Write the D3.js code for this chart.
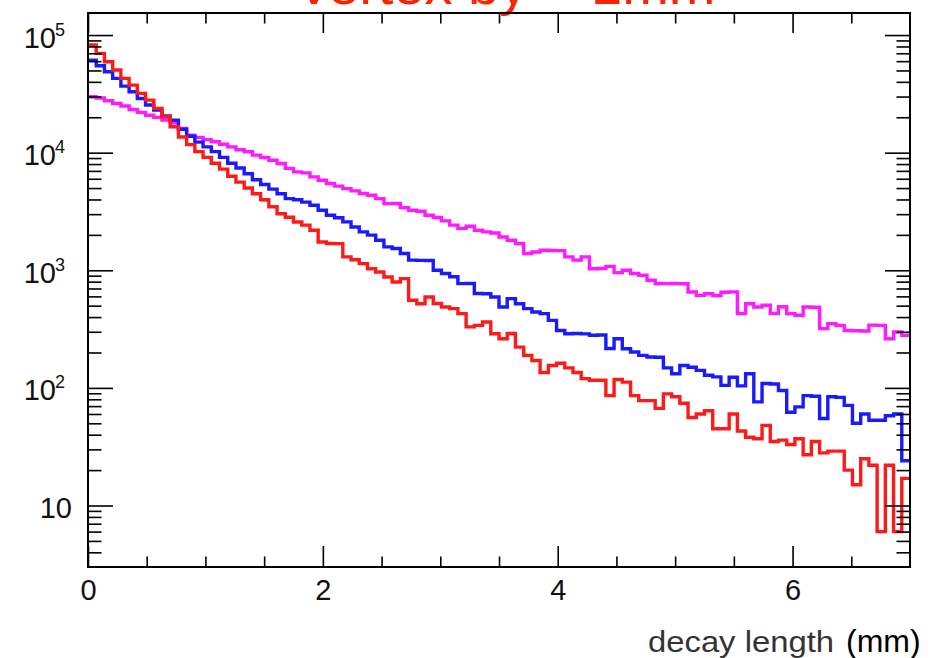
<!DOCTYPE html>
<html><head><meta charset="utf-8">
<script src="https://cdn.jsdelivr.net/npm/d3@7"></script>
<style>html,body{margin:0;padding:0;background:#fff;overflow:hidden;}</style>
</head><body>
<svg id="chart" width="947" height="658"></svg>
<script>
// ---- data (100 bins, 0 to 7 mm) ----
const xMin = 0, xMax = 7, nBins = 100;
const redCounts = [
 82200,69800,59300,50400,42800,37500,31900,28000,23800,20200,
 16600,13600,11700,10200,9120,8130,7240,6310,5620,5010,
 4470,3980,3470,3020,2820,2570,2420,2190,1740,1690,
 1685,1300,1230,1140,1030,968,877,794,849,556,
 520,593,522,488,472,428,330,340,363,289,
 262,290,222,189,171,135,155,162,148,135,
 120,116,116,86,118,112,86,78,78,67,
 89,84,74,56,60,64,45,45,60,43,
 38,37,48,35,36,33,37,27,35,28,
 29,29,20,15,25,22,6,22,6,17];
const blueCounts = [
 61200,54800,48800,42800,36800,33000,28900,25400,23000,20500,
 18900,15800,13800,12300,11200,10200,9120,8130,7410,6610,
 5890,5370,4900,4470,4070,3980,3800,3570,3240,2940,
 2800,2580,2330,2120,1990,1800,1580,1530,1390,1220,
 1215,1210,1000,940,880,770,772,635,632,593,
 488,574,520,472,442,428,375,308,289,290,
 288,280,282,216,262,215,202,189,183,182,
 148,132,155,150,141,128,124,105,123,104,
 132,76,109,108,95,62,69,86,85,55,
 84,83,71,50,60,53,53,58,60,24];
const magentaCounts = [
 29900,29200,27600,26200,24900,23300,22000,20800,19950,18900,
 17950,16100,14100,13500,12900,12400,11800,11200,10600,10200,
 9530,9100,8630,8090,7350,6870,6730,6220,5830,5470,
 5190,4950,4730,4500,4350,4070,3690,3700,3410,3240,
 3180,2940,2810,2630,2420,2270,2370,2190,2120,2075,
 1920,1800,1690,1390,1430,1480,1475,1470,1300,1220,
 1300,1030,1035,1080,955,1000,938,906,822,771,
 770,772,768,653,612,632,610,650,655,428,
 520,488,504,430,490,428,414,488,485,319,
 352,340,308,306,305,342,340,262,299,280];
const seriesColors = ["#ff1a1a", "#1a1aff", "#ff1aff"];
const xMajorTicks = [0, 2, 4, 6];
const xTickLabels = ["0", "2", "4", "6"];
const xMinorTicks = [0.5, 1, 1.5, 2.5, 3, 3.5, 4.5, 5, 5.5, 6.5];
const yMajorTicks = [10, 100, 1000, 10000, 100000];
const yTickExp = ["", "2", "3", "4", "5"];
const titleText = "vertex by ~ 1mm";
const xTitle = "decay length";
const xUnit = "(mm)";

// ---- layout ----
const FONT = "'Liberation Sans', Arial, Helvetica, sans-serif";
const frame = {left: 88, right: 910, top: 13, bottom: 567};
const svg = d3.select("#chart");
const x = d3.scaleLinear().domain([xMin, xMax]).range([frame.left, frame.right]);
const y = d3.scaleLog().domain([3.0, 1.54e5]).range([frame.bottom, frame.top]);
const binW = (xMax - xMin) / nBins;

// title (mostly cut off at the top, as in the reference)
svg.append("text").attr("x", 300).attr("y", 4)
  .attr("font-family", FONT).attr("font-size", 56).attr("fill", "#ff2200")
  .text(titleText);

// histograms
svg.append("defs").append("clipPath").attr("id", "plotclip")
  .append("rect").attr("x", frame.left).attr("y", frame.top)
  .attr("width", frame.right - frame.left).attr("height", frame.bottom - frame.top);

function stepPoints(counts) {
  const pts = counts.map((c, i) => [xMin + i * binW, c]);
  pts.push([xMax, counts[counts.length - 1]]);
  return pts;
}
const line = d3.line().x(d => x(d[0])).y(d => y(d[1])).curve(d3.curveStepAfter);
const plotG = svg.append("g").attr("clip-path", "url(#plotclip)");
[[magentaCounts, seriesColors[2]], [blueCounts, seriesColors[1]], [redCounts, seriesColors[0]]].forEach(([counts, col]) => {
  plotG.append("path").attr("d", line(stepPoints(counts)))
    .attr("fill", "none").attr("stroke", col)
    .attr("stroke-width", 3.4).attr("stroke-linejoin", "miter");
});

// minor y ticks
const yMinorTicks = [];
[1, 10, 100, 1000, 10000, 100000].forEach(dec => {
  for (let mlt = 2; mlt <= 9; mlt++) {
    const v = dec * mlt;
    if (v > 3.0 && v < 1.54e5) yMinorTicks.push(v);
  }
});

function styleAxis(g) {
  g.select(".domain").remove();
  g.selectAll("line").attr("stroke", "#000").attr("stroke-width", 1.6);
}

// bottom axis
const bottomMajor = svg.append("g").attr("transform", `translate(0,${frame.bottom})`)
  .call(d3.axisBottom(x).tickValues(xMajorTicks).tickSizeInner(-21).tickSizeOuter(0)
    .tickFormat((d, i) => xTickLabels[i]));
styleAxis(bottomMajor);
bottomMajor.selectAll("text").attr("y", 33).attr("dy", null)
  .attr("font-family", FONT).attr("font-size", 29).attr("fill", "#111");
const bottomMinor = svg.append("g").attr("transform", `translate(0,${frame.bottom})`)
  .call(d3.axisBottom(x).tickValues(xMinorTicks).tickSizeInner(-10.5).tickSizeOuter(0).tickFormat(""));
styleAxis(bottomMinor);

// top axis
const topMajor = svg.append("g").attr("transform", `translate(0,${frame.top})`)
  .call(d3.axisTop(x).tickValues(xMajorTicks).tickSizeInner(-20).tickSizeOuter(0).tickFormat(""));
styleAxis(topMajor);
const topMinor = svg.append("g").attr("transform", `translate(0,${frame.top})`)
  .call(d3.axisTop(x).tickValues(xMinorTicks).tickSizeInner(-10.5).tickSizeOuter(0).tickFormat(""));
styleAxis(topMinor);

// left axis
const leftMajor = svg.append("g").attr("transform", `translate(${frame.left},0)`)
  .call(d3.axisLeft(y).tickValues(yMajorTicks).tickSizeInner(-25).tickSizeOuter(0).tickFormat(""));
styleAxis(leftMajor);
leftMajor.selectAll(".tick").each(function(d, i) {
  const g = d3.select(this);
  g.selectAll("text").remove();
  if (yTickExp[i] === "") {
    g.append("text").attr("x", -16).attr("y", 11.5).attr("text-anchor", "end")
      .attr("font-family", FONT).attr("font-size", 29).attr("fill", "#111").text("10");
  } else {
    g.append("text").attr("x", -32).attr("y", 12).attr("text-anchor", "end")
      .attr("font-family", FONT).attr("font-size", 29).attr("fill", "#111").text("10");
    g.append("text").attr("x", -33).attr("y", 0).attr("text-anchor", "start")
      .attr("font-family", FONT).attr("font-size", 18).attr("fill", "#111").text(yTickExp[i]);
  }
});
const leftMinor = svg.append("g").attr("transform", `translate(${frame.left},0)`)
  .call(d3.axisLeft(y).tickValues(yMinorTicks).tickSizeInner(-13.5).tickSizeOuter(0).tickFormat(""));
styleAxis(leftMinor);

// right axis
const rightMajor = svg.append("g").attr("transform", `translate(${frame.right},0)`)
  .call(d3.axisRight(y).tickValues(yMajorTicks).tickSizeInner(-25).tickSizeOuter(0).tickFormat(""));
styleAxis(rightMajor);
const rightMinor = svg.append("g").attr("transform", `translate(${frame.right},0)`)
  .call(d3.axisRight(y).tickValues(yMinorTicks).tickSizeInner(-13.5).tickSizeOuter(0).tickFormat(""));
styleAxis(rightMinor);

// frame
svg.append("rect").attr("x", frame.left).attr("y", frame.top)
  .attr("width", frame.right - frame.left).attr("height", frame.bottom - frame.top)
  .attr("fill", "none").attr("stroke", "#000").attr("stroke-width", 2);

// x axis title
svg.append("text").attr("x", 648).attr("y", 652)
  .attr("font-family", FONT).attr("font-size", 29).attr("fill", "#333")
  .attr("textLength", 186).attr("lengthAdjust", "spacingAndGlyphs")
  .text(xTitle);
svg.append("text").attr("x", 846).attr("y", 652)
  .attr("font-family", FONT).attr("font-size", 32).attr("fill", "#000")
  .text(xUnit);
</script>
</body></html>
